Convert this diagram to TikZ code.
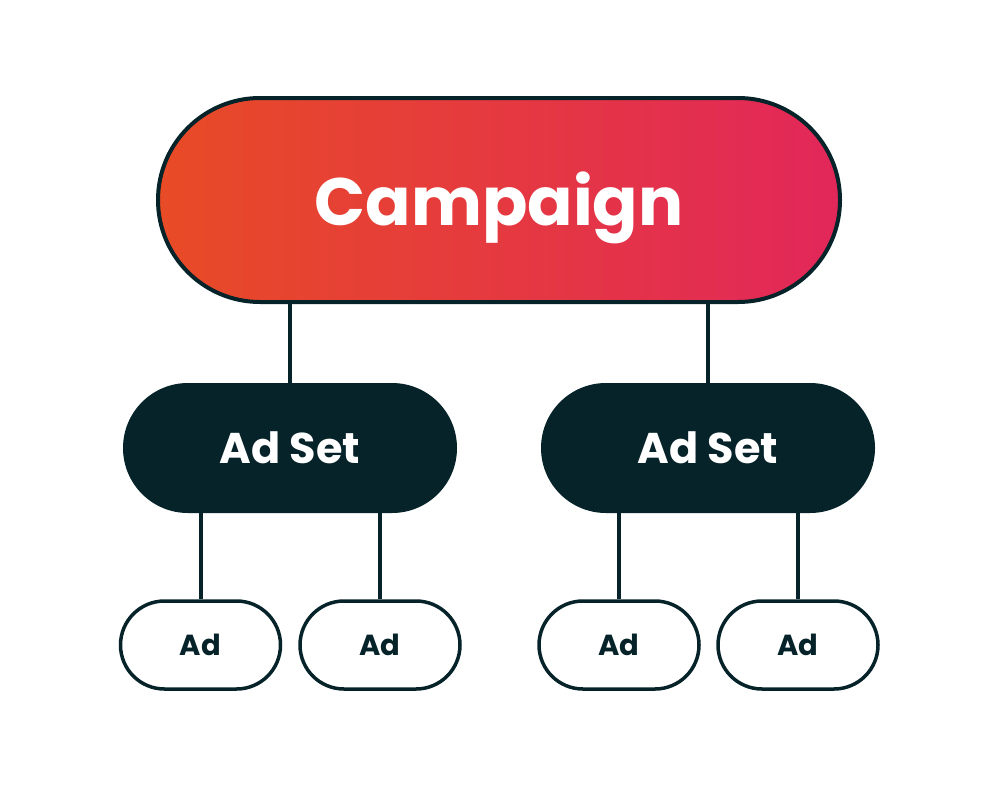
\documentclass[tikz,border=0pt]{standalone}
\usepackage{fontspec}
\setmainfont{Poppins}
\usetikzlibrary{shapes.misc}
\definecolor{dk}{HTML}{062329}
\definecolor{orng}{HTML}{E84B26}
\definecolor{pnk}{HTML}{E2275A}
\tikzset{
  pill/.style={rounded rectangle, draw=dk, line width=4pt, inner sep=0pt},
  setbox/.style={pill, fill=dk, minimum width=330pt, minimum height=126pt, text=white, font=\fontsize{43}{48}\selectfont\bfseries},
  adbox/.style={pill, fill=white, line width=3.5pt, minimum width=160pt, minimum height=88pt, text=dk, font=\fontsize{29}{34}\selectfont\bfseries},
  link/.style={draw=dk, line width=4pt}
}
\begin{document}
\begin{tikzpicture}[x=1pt,y=-1pt]
\useasboundingbox (0,0) rectangle (1000,790);
\node[pill, left color=orng, right color=pnk, minimum width=682pt, minimum height=204pt] (c) at (499,200) {};
\node[text=white, font=\fontsize{67}{80}\selectfont\bfseries, inner sep=0pt] (ct) at (499,208) {Campaign};
\node[setbox] (s1) at (290,448) {Ad Set};
\node[setbox] (s2) at (708,448) {Ad Set};
\node[adbox] (a1) at (200.5,645) {Ad};
\node[adbox] (a2) at (380,645) {Ad};
\node[adbox] (a3) at (619,645) {Ad};
\node[adbox] (a4) at (798,645) {Ad};
\draw[link] (c.south -| s1) -- (s1.north);
\draw[link] (c.south -| s2) -- (s2.north);
\draw[link] (s1.south -| a1) -- (a1.north);
\draw[link] (s1.south -| a2) -- (a2.north);
\draw[link] (s2.south -| a3) -- (a3.north);
\draw[link] (s2.south -| a4) -- (a4.north);
\end{tikzpicture}
\end{document}
